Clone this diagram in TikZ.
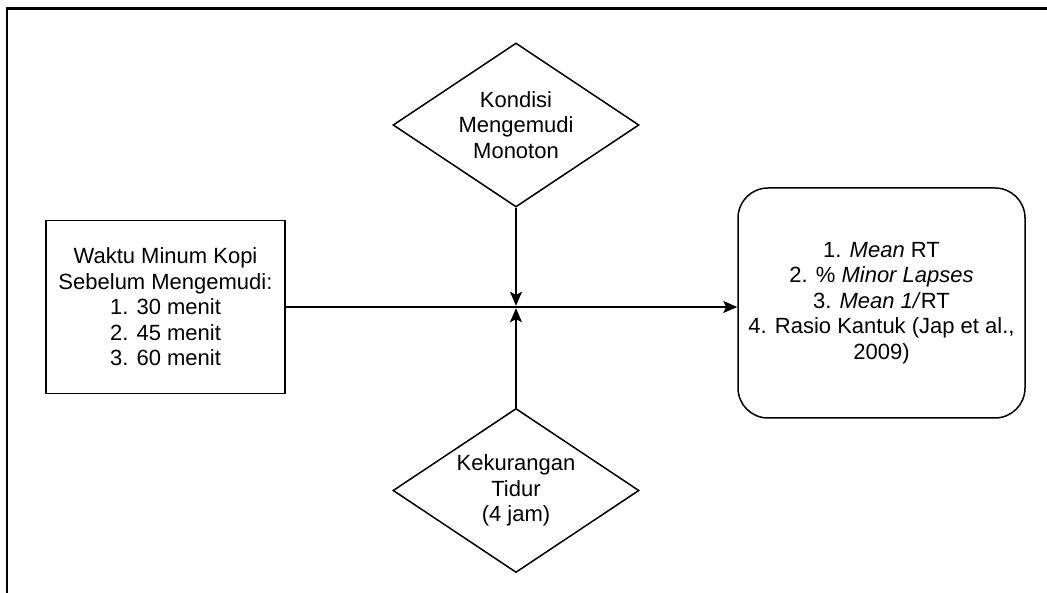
\documentclass[tikz,border=0pt]{standalone}
\usepackage{fontspec}
\setmainfont{Liberation Sans}
\usetikzlibrary{shapes.geometric, arrows.meta}

\tikzset{
	teks/.style={align=center, font=\fontsize{22}{25.5}\selectfont, inner sep=0pt},
	kotak/.style={teks, draw, line width=1.5pt, minimum width=239pt, minimum height=173pt},
	bulat/.style={teks, draw, line width=1.5pt, rounded corners=30pt, minimum width=287pt, minimum height=230pt},
	belah/.style={teks, draw, diamond, aspect=1.5, line width=1.5pt, minimum width=246pt, minimum height=164pt},
	panah/.style={-{Stealth[length=14pt, width=12pt, inset=3pt]}, line width=1.5pt}
}

\begin{document}
\begin{tikzpicture}[x=1pt, y=-1pt]

		\useasboundingbox (0,0) rectangle (1047,593);

		% bingkai
		\draw[line width=2.2pt] (7,593) -- (7,8.5) -- (1047,8.5);

		\coordinate (J) at (516,307);

		\node[kotak] (waktu) at (165.5,307) {Waktu Minum Kopi\\Sebelum Mengemudi:\\1. 30 menit\\2. 45 menit\\3. 60 menit};
		\node[belah] (kondisi) at (516,125) {Kondisi\\Mengemudi\\Monoton};
		\node[belah] (kurang) at (516,490.5) {Kekurangan\\Tidur\\(4 jam)};
		\node[bulat] (hasil) at (881.5,303) {1. \textit{Mean} RT\\2. \% \textit{Minor Lapses}\\3. \textit{Mean 1/}RT\\4. Rasio Kantuk (Jap et al.,\\2009)};

		\draw[panah] (waktu.east) -- (waktu.east -| hasil.west);
		\draw[panah, shorten >=1.2pt] (kondisi.south) -- (J);
		\draw[panah, shorten >=1.2pt] (kurang.north) -- (J);

\end{tikzpicture}
\end{document}
